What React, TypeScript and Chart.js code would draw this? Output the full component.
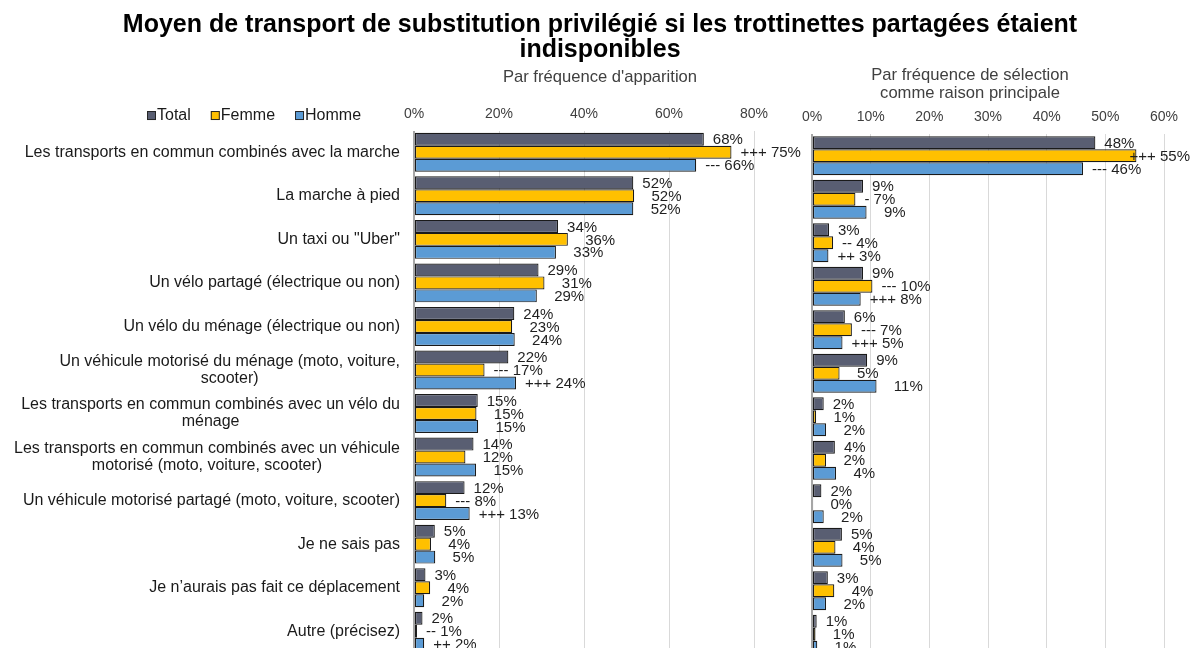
import React, { useEffect, useRef } from 'react';
import { Chart, registerables } from 'chart.js';

Chart.register(...registerables);

const FONT = '"Liberation Sans", Arial, Helvetica, sans-serif';

// ---------- DATA ----------
const categories: string[][] = [
  ['Les transports en commun combinés avec la marche'],
  ['La marche à pied'],
  ['Un taxi ou "Uber"'],
  ['Un vélo partagé (électrique ou non)'],
  ['Un vélo du ménage (électrique ou non)'],
  ['Un véhicule motorisé du ménage (moto, voiture,', 'scooter)'],
  ['Les transports en commun combinés avec un vélo du', 'ménage'],
  ['Les transports en commun combinés avec un véhicule', 'motorisé (moto, voiture, scooter)'],
  ['Un véhicule motorisé partagé (moto, voiture, scooter)'],
  ['Je ne sais pas'],
  ['Je n’aurais pas fait ce déplacement'],
  ['Autre (précisez)'],
];

const seriesNames = ['Total', 'Femme', 'Homme'];
const seriesColors = ['#595E72', '#FFC000', '#5B9BD5'];

// Par fréquence d'apparition (%)
const totalApparition = [68.2, 51.6, 33.9, 29.3, 23.6, 22.2, 15.0, 14.0, 11.9, 4.9, 2.7, 2.0];
const femmeApparition = [74.7, 51.8, 36.2, 30.7, 23.1, 16.6, 14.7, 12.1, 7.6, 4.0, 3.8, 0.7];
const hommeApparition = [66.4, 51.6, 33.4, 28.9, 23.7, 24.0, 15.1, 14.6, 13.1, 5.0, 2.4, 2.4];
const femmeSigApparition = ['+++', '', '', '', '', '---', '', '', '---', '', '', '--'];
const hommeSigApparition = ['---', '', '', '', '', '+++', '', '', '+++', '', '', '++'];

// Par fréquence de sélection comme raison principale (%)
const totalSelection = [48.3, 8.7, 2.9, 8.7, 5.6, 9.4, 2.0, 3.9, 1.6, 5.1, 2.7, 0.8];
const femmeSelection = [55.3, 7.4, 3.6, 10.3, 6.8, 4.7, 0.7, 2.4, 0.2, 4.0, 3.8, 0.6];
const hommeSelection = [46.2, 9.3, 2.8, 8.3, 5.2, 11.0, 2.4, 4.1, 2.0, 5.2, 2.4, 0.9];
const femmeSigSelection = ['+++', '-', '--', '---', '---', '', '', '', '', '', '', ''];
const hommeSigSelection = ['---', '', '++', '+++', '+++', '', '', '', '', '', '', ''];

const apparitionTicks = [0, 20, 40, 60, 80];
const selectionTicks = [0, 10, 20, 30, 40, 50, 60];

const mainTitle = [
  'Moyen de transport de substitution privilégié si les trottinettes partagées étaient',
  'indisponibles',
];
const leftSubtitle = "Par fréquence d'apparition";
const rightSubtitle = ['Par fréquence de sélection', 'comme raison principale'];

// ---------- PLUGINS ----------
function makeBarLabels(sigs: (string[] | null)[]) {
  return {
    id: 'barLabels',
    afterDatasetsDraw(chart: any) {
      const ctx = chart.ctx;
      ctx.save();
      ctx.font = `15px ${FONT}`;
      ctx.fillStyle = '#1f1f1f';
      ctx.textBaseline = 'middle';
      ctx.textAlign = 'left';
      const space = ctx.measureText(' ').width;
      chart.data.datasets.forEach((ds: any, di: number) => {
        const meta = chart.getDatasetMeta(di);
        meta.data.forEach((el: any, i: number) => {
          const v = ds.data[i] as number;
          const pct = Math.round(v) + '%';
          const sigArr = sigs[di];
          let text = pct;
          let x = el.x + 9;
          if (sigArr) {
            if (sigArr[i]) text = sigArr[i] + ' ' + pct;
            else x += 2 * space;
          }
          const w = ctx.measureText(text).width;
          if (x + w > chart.width - 4) x = chart.width - 4 - w;
          ctx.fillText(text, x, el.y + 1);
        });
      });
      ctx.restore();
    },
  };
}

const categoryLabels = {
  id: 'categoryLabels',
  afterDraw(chart: any) {
    const ctx = chart.ctx;
    const yScale = chart.scales.y;
    const right = chart.chartArea.left - 14;
    const lh = 17;
    ctx.save();
    ctx.font = `16px ${FONT}`;
    ctx.fillStyle = '#1a1a1a';
    ctx.textBaseline = 'middle';
    ctx.textAlign = 'center';
    categories.forEach((lines, i) => {
      const cy = yScale.getPixelForValue(i);
      const maxW = Math.max(...lines.map((l) => ctx.measureText(l).width));
      const cx = right - maxW / 2;
      lines.forEach((l, k) => {
        ctx.fillText(l, cx, cy + (k - (lines.length - 1) / 2) * lh);
      });
    });
    ctx.restore();
  },
};

const sideLegend = {
  id: 'sideLegend',
  afterDraw(chart: any) {
    const ctx = chart.ctx;
    ctx.save();
    ctx.font = `16px ${FONT}`;
    ctx.textBaseline = 'middle';
    ctx.textAlign = 'left';
    let x = 147;
    const y = chart.chartArea.top - 15.5;
    chart.data.datasets.forEach((ds: any) => {
      ctx.fillStyle = ds.backgroundColor;
      ctx.fillRect(x, y - 4, 9, 9);
      ctx.strokeStyle = '#262626';
      ctx.lineWidth = 1;
      ctx.strokeRect(x + 0.5, y - 3.5, 8, 8);
      ctx.fillStyle = '#1a1a1a';
      ctx.fillText(ds.label, x + 10, y + 1);
      x += 10 + ctx.measureText(ds.label).width + 20;
    });
    ctx.restore();
  },
};

// ---------- CONFIG ----------
function datasets(values: number[][]) {
  return values.map((data, i) => ({
    label: seriesNames[i],
    data,
    backgroundColor: seriesColors[i],
    borderColor: '#1a1a1a',
    borderWidth: 1.2,
    borderSkipped: false as const,
    categoryPercentage: 0.894,
    barPercentage: 1,
  }));
}

function xScale(max: number, tickList: number[], height: number) {
  return {
    type: 'linear' as const,
    position: 'top' as const,
    min: 0,
    max,
    afterBuildTicks: (s: any) => {
      s.ticks = tickList.map((v) => ({ value: v }));
    },
    afterFit: (s: any) => {
      s.height = height;
    },
    ticks: {
      callback: (v: any) => v + '%',
      font: { size: 14 },
      color: '#404040',
      padding: 8,
      maxRotation: 0,
      autoSkip: false,
    },
    grid: {
      drawTicks: false,
      color: (c: any) => (c.tick && c.tick.value === 0 ? '#A6A6A6' : '#D9D9D9'),
      lineWidth: (c: any) => (c.tick && c.tick.value === 0 ? 2 : 1),
    },
    border: { display: false },
  };
}

function hiddenAxis(position: 'left' | 'right', type: 'category' | 'linear', width: number) {
  return {
    type,
    position,
    display: true,
    ticks: { display: false },
    grid: { display: false },
    border: { display: false },
    afterFit: (s: any) => {
      s.width = width;
    },
  };
}

const labels = categories.map((c) => c.join(' '));

export default function App() {
  const leftRef = useRef<HTMLCanvasElement>(null);
  const rightRef = useRef<HTMLCanvasElement>(null);

  useEffect(() => {
    Chart.defaults.font.family = FONT;

    const left = new Chart(leftRef.current as HTMLCanvasElement, {
      type: 'bar',
      data: {
        labels,
        datasets: datasets([totalApparition, femmeApparition, hommeApparition]) as any,
      },
      options: {
        indexAxis: 'y',
        responsive: false,
        animation: false,
        layout: { padding: { left: 6, top: 0, right: 0, bottom: 7 } },
        scales: {
          x: xScale(80, apparitionTicks, 43.6) as any,
          y: hiddenAxis('left', 'category', 408) as any,
          pad: hiddenAxis('right', 'linear', 440) as any,
        },
        plugins: {
          legend: { display: false },
          tooltip: { enabled: false },
          title: {
            display: true,
            text: mainTitle,
            color: '#000',
            font: { size: 25, weight: 'bold', lineHeight: 1 },
            padding: { top: 13, bottom: 0 },
          },
          subtitle: {
            display: true,
            text: leftSubtitle,
            color: '#404040',
            font: { size: 16.6, lineHeight: 1.2 },
            padding: { top: 4, bottom: 0 },
          },
        },
      },
      plugins: [makeBarLabels([null, femmeSigApparition, hommeSigApparition]), categoryLabels, sideLegend],
    });

    const right = new Chart(rightRef.current as HTMLCanvasElement, {
      type: 'bar',
      data: {
        labels,
        datasets: datasets([totalSelection, femmeSelection, hommeSelection]) as any,
      },
      options: {
        indexAxis: 'y',
        responsive: false,
        animation: false,
        layout: { padding: { left: 0, top: 0, right: 0, bottom: 4 } },
        scales: {
          x: xScale(60, selectionTicks, 31.5) as any,
          y: hiddenAxis('left', 'category', 66) as any,
          pad: hiddenAxis('right', 'linear', 30) as any,
        },
        plugins: {
          legend: { display: false },
          tooltip: { enabled: false },
          title: {
            display: true,
            text: rightSubtitle,
            color: '#404040',
            font: { size: 16.6, weight: 'normal', lineHeight: 1.1 },
            padding: { top: 66, bottom: 0 },
          },
        },
      },
      plugins: [makeBarLabels([null, femmeSigSelection, hommeSigSelection])],
    });

    return () => {
      left.destroy();
      right.destroy();
    };
  }, []);

  return (
    <div
      style={{
        position: 'absolute',
        left: 0,
        top: 0,
        width: 1194,
        height: 648,
        overflow: 'hidden',
        background: '#fff',
      }}
    >
      <canvas ref={leftRef} width={1194} height={660} style={{ position: 'absolute', left: 0, top: 0 }} />
      <canvas ref={rightRef} width={448} height={660} style={{ position: 'absolute', left: 746, top: 0 }} />
    </div>
  );
}
